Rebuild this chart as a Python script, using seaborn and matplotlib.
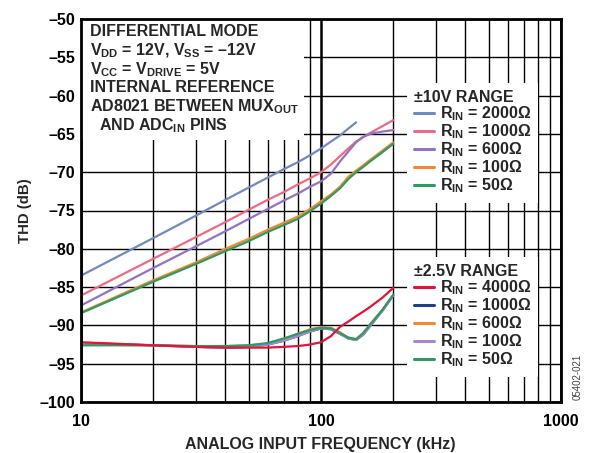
import matplotlib
matplotlib.use('Agg')
import matplotlib.pyplot as plt
from matplotlib.patches import Rectangle
import seaborn as sns

# ---------------- data ----------------
freq_10v = [10, 20, 30, 40, 50, 60, 70, 80, 90, 100, 110, 120, 130, 140, 150, 160, 180, 200]
freq_10v_2000 = [10, 20, 30, 40, 50, 60, 70, 80, 90, 100, 110, 120, 130, 140]

thd_10v_2000 = [-83.5, -78.6, -75.7, -73.6, -72.0, -70.7, -69.6, -68.7, -67.8, -66.9, -66.0, -65.2, -64.3, -63.5]
thd_10v_1000 = [-86.1, -81.3, -78.5, -76.5, -74.9, -73.6, -72.6, -71.6, -70.8, -70.0, -69.0, -67.9, -66.9, -66.0, -65.4, -64.9, -64.0, -63.2]
thd_10v_600 = [-87.4, -82.5, -79.7, -77.7, -76.1, -74.8, -73.7, -72.8, -71.9, -71.2, -70.2, -68.6, -67.3, -66.1, -65.4, -65.0, -64.7, -64.5]
thd_10v_100 = [-88.3, -84.1, -81.8, -80.0, -78.7, -77.5, -76.6, -75.8, -74.8, -73.8, -72.9, -71.9, -70.6, -69.8, -69.1, -68.4, -67.2, -66.1]
thd_10v_50 = [-88.4, -84.3, -82.0, -80.3, -79.0, -77.8, -76.9, -76.1, -75.1, -74.1, -73.1, -72.1, -70.9, -70.0, -69.3, -68.6, -67.4, -66.3]

freq_25v = [10, 20, 30, 40, 50, 60, 70, 80, 90, 100, 110, 120, 130, 140, 150, 160, 180, 200]
thd_25v_4000 = [-92.2, -92.6, -92.8, -92.9, -92.9, -92.9, -92.8, -92.7, -92.5, -92.2, -91.4, -90.2, -89.5, -88.8, -88.2, -87.6, -86.4, -85.1]
thd_25v_1000 = [-92.3, -92.6, -92.8, -92.9, -92.8, -92.5, -92.0, -91.4, -90.8, -90.4, -90.5, -91.1, -91.7, -91.9, -91.2, -90.1, -88.1, -86.1]
thd_25v_600 = [-92.5, -92.6, -92.7, -92.7, -92.6, -92.4, -91.8, -91.1, -90.5, -90.2, -90.3, -90.9, -91.6, -91.8, -91.0, -89.9, -88.0, -86.0]
thd_25v_100 = [-92.3, -92.6, -92.8, -92.9, -92.8, -92.5, -92.0, -91.4, -90.8, -90.4, -90.5, -91.1, -91.7, -91.9, -91.2, -90.1, -88.1, -86.1]
thd_25v_50 = [-92.6, -92.6, -92.7, -92.7, -92.6, -92.3, -91.7, -91.1, -90.6, -90.3, -90.4, -91.0, -91.6, -91.8, -91.0, -89.9, -88.0, -86.0]

labels_10v = ["2000", "1000", "600", "100", "50"]
labels_25v = ["4000", "1000", "600", "100", "50"]
colors_10v = ["#7189bd", "#ec6a85", "#9272c4", "#f7862f", "#2e9a62"]
colors_25v = ["#e0153a", "#1d3f8c", "#f7862f", "#a587d2", "#2e9a62"]

yticks = [-50, -55, -60, -65, -70, -75, -80, -85, -90, -95, -100]
ytick_labels = ["\u2013" + str(abs(v)) for v in yticks]
xticks = [10, 100, 1000]

# ---------------- style ----------------
sns.set_theme(style='white')
plt.rcParams['font.family'] = ['Liberation Sans', 'DejaVu Sans']
plt.rcParams['font.weight'] = 'bold'
plt.rcParams['mathtext.fontset'] = 'custom'
plt.rcParams['mathtext.rm'] = 'Liberation Sans:bold'
plt.rcParams['mathtext.it'] = 'Liberation Sans:bold'
plt.rcParams['mathtext.bf'] = 'Liberation Sans:bold'

W, H = 593, 453
fig = plt.figure(figsize=(W / 100, H / 100), dpi=100)
ax = fig.add_axes([81 / W, 1 - 402 / H, 480 / W, 383 / H])

lw = 1.6
ser_10v = [(freq_10v_2000, thd_10v_2000), (freq_10v, thd_10v_1000), (freq_10v, thd_10v_600),
           (freq_10v, thd_10v_100), (freq_10v, thd_10v_50)]
h10 = []
for (fx, fy), c in zip(ser_10v, colors_10v):
    sns.lineplot(x=fx, y=fy, color=c, lw=lw, ax=ax, zorder=2)
    h10.append(ax.get_lines()[-1])

ser_25v = [thd_25v_4000, thd_25v_1000, thd_25v_600, thd_25v_100, thd_25v_50]
h25 = [None] * 5
for i in [1, 2, 3, 4, 0]:
    sns.lineplot(x=freq_25v, y=ser_25v[i], color=colors_25v[i], lw=lw, ax=ax, zorder=2)
    h25[i] = ax.get_lines()[-1]

# ---------------- axes ----------------
ax.set_xscale('log')
ax.set_xlim(10, 1000)
ax.set_ylim(-100, -50)
ax.set_xticks(xticks)
ax.set_xticklabels([str(v) for v in xticks])
ax.set_yticks(yticks)
ax.set_yticklabels(ytick_labels)
ax.tick_params(axis='both', which='both', length=0, labelsize=11.5, colors='black')
ax.tick_params(axis='x', pad=9)
ax.tick_params(axis='y', pad=4)
ax.tick_params(axis='x', which='minor', labelbottom=False)
for lab in ax.get_xticklabels() + ax.get_yticklabels():
    lab.set_fontweight('bold')

ax.set_axisbelow(True)
ax.grid(True, axis='y', which='major', color='black', lw=1.0)
ax.grid(True, axis='x', which='minor', color='black', lw=1.0)
ax.grid(True, axis='x', which='major', color='black', lw=1.8)
for sp in ax.spines.values():
    sp.set_color('black')
    sp.set_linewidth(2.0)
    sp.set_visible(True)
ax.set_xlabel('')
ax.set_ylabel('')

# white area behind the condition notes
ax.add_patch(Rectangle((0, 1 - 121 / 383), (304 - 81) / 480, 121 / 383,
                       transform=ax.transAxes, facecolor='white', edgecolor='none', zorder=1.5))

notes = [
    (90, 32, "DIFFERENTIAL MODE"),
    (90, 51, "V$_{\\rm DD}$ = 12V, V$_{\\rm SS}$ = \u201312V"),
    (90, 70, r"V$_{\rm CC}$ = V$_{\rm DRIVE}$ = 5V"),
    (90, 88, "INTERNAL REFERENCE"),
    (90, 107, r"AD8021 BETWEEN MUX$_{\rm OUT}$"),
    (99, 126, r"AND ADC$_{\rm IN}$ PINS"),
]
for px, py, s in notes:
    fig.text(px / W, 1 - py / H, s, fontsize=11.5, fontweight='bold', va='center', ha='left', zorder=5)

# ---------------- legends ----------------
def make_legend(handles, labels, title, top_px):
    leg = ax.legend(handles, [r"R$_{\rm IN}$ = " + l + "\u03a9" for l in labels],
                    title=title, loc='upper left',
                    bbox_to_anchor=(407 / W, 1 - top_px / H), bbox_transform=fig.transFigure,
                    borderaxespad=0, borderpad=0.45, labelspacing=-0.04, handlelength=1.25,
                    handletextpad=0.35, frameon=True, fancybox=False, framealpha=1,
                    facecolor='white', edgecolor='none', alignment='left',
                    prop={'size': 11.5, 'weight': 'bold'},
                    title_fontproperties={'size': 11.5, 'weight': 'bold'})
    leg.set_zorder(4)
    for ln in leg.get_lines():
        ln.set_linewidth(2.2)
    return leg

leg1 = make_legend(h10, labels_10v, "\u00b110V RANGE", 83)
ax.add_artist(leg1)
leg2 = make_legend(h25, labels_25v, "\u00b12.5V RANGE", 257)

# ---------------- labels ----------------
fig.text(25 / W, 1 - 211 / H, "THD (dB)", rotation=90, fontsize=10.8, fontweight='bold',
         ha='center', va='center')
fig.text(320 / W, 1 - 445 / H, "ANALOG INPUT FREQUENCY (kHz)", fontsize=11.5, fontweight='bold',
         ha='center', va='center')
fig.text(578 / W, 1 - 377 / H, "05402-021", rotation=90, fontsize=7, fontweight='normal',
         color='#444444', ha='center', va='center')

fig.savefig('out.png', dpi=100)
